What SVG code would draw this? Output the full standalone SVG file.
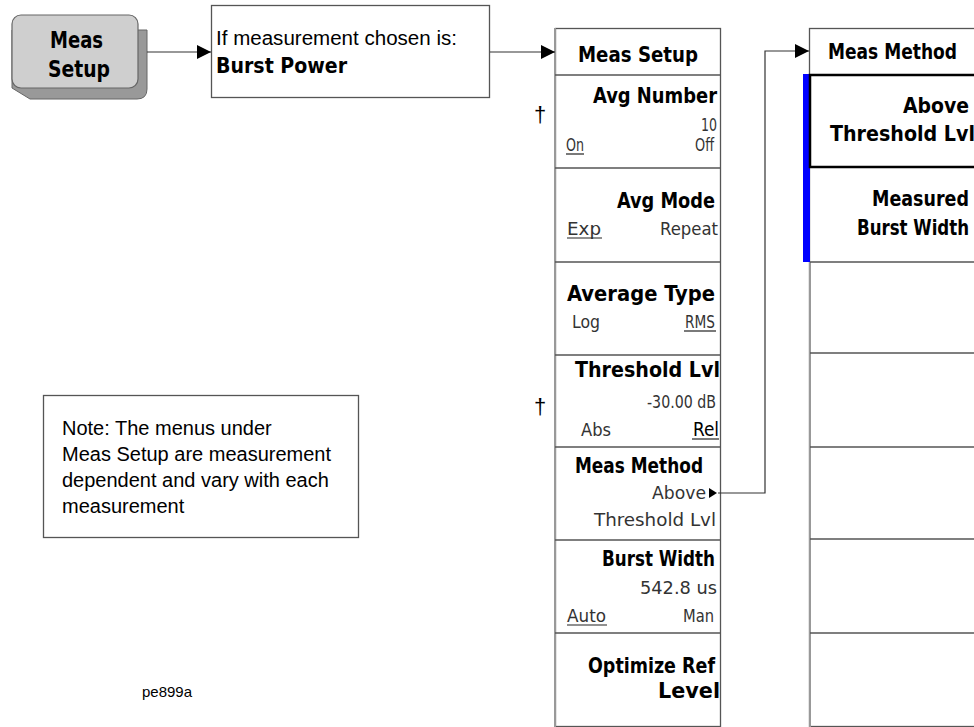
<svg xmlns="http://www.w3.org/2000/svg" width="974" height="727" viewBox="0 0 974 727">
<style>
.hp{font-family:"Liberation Sans Narrow","DejaVu Sans Condensed","Liberation Sans",sans-serif;}
.b{font-weight:bold;font-size:22px;fill:#000;}
.t{font-size:18px;fill:#333;}
.ar{font-family:"Liberation Sans",Arial,sans-serif;fill:#000;}
.box{fill:#fff;stroke:#555;stroke-width:1.3;}
.div{stroke:#555;stroke-width:1.3;}
.conn{fill:none;stroke:#333;stroke-width:1.2;}
.u{stroke:#222;stroke-width:1.2;}
</style>
<defs>
<marker id="arr" viewBox="0 0 14 14" refX="14" refY="7" markerWidth="14" markerHeight="14" markerUnits="userSpaceOnUse" orient="auto">
<path d="M0,0 L14,7 L0,14 Z" fill="#000"/>
</marker>
</defs>
<rect width="974" height="727" fill="#fff"/>

<g id="key-meas-setup">
<path d="M22,30 L147,30 L147,89 Q147,99 137,99 L30,99 L12,88 L12,30 Z" fill="#999" stroke="#666" stroke-width="1"/>
<rect x="12" y="15" width="126" height="73" rx="9" fill="#cfcfcf" stroke="#666" stroke-width="1.2"/>
<text class="hp" x="50" y="48" font-size="23" font-weight="bold" fill="#000" textLength="53" lengthAdjust="spacingAndGlyphs">Meas</text>
<text class="hp" x="48" y="77" font-size="23" font-weight="bold" fill="#000" textLength="62" lengthAdjust="spacingAndGlyphs">Setup</text>
</g>

<g id="condition-box">
<rect class="box" x="211.5" y="5.5" width="278" height="92"/>
<text class="ar" x="216" y="45" font-size="20" textLength="241" lengthAdjust="spacingAndGlyphs">If measurement chosen is:</text>
<text class="hp" x="216" y="73" font-size="22" font-weight="bold" textLength="131" lengthAdjust="spacingAndGlyphs">Burst Power</text>
</g>

<g id="menu-meas-setup">
<rect class="box" x="555.5" y="28.5" width="165" height="698"/>
<line x1="555" y1="28" x2="555" y2="727" stroke="#999" stroke-width="2"/>
<line class="div" x1="555" y1="75" x2="721" y2="75"/>
<line class="div" x1="555" y1="168" x2="721" y2="168"/>
<line class="div" x1="555" y1="262" x2="721" y2="262"/>
<line class="div" x1="555" y1="355" x2="721" y2="355"/>
<line class="div" x1="555" y1="447" x2="721" y2="447"/>
<line class="div" x1="555" y1="540" x2="721" y2="540"/>
<line class="div" x1="555" y1="633" x2="721" y2="633"/>
<text class="hp b" x="578" y="62" textLength="120" lengthAdjust="spacingAndGlyphs">Meas Setup</text>

<text class="hp b" x="593" y="103" textLength="124" lengthAdjust="spacingAndGlyphs">Avg Number</text>
<text class="hp t" x="701" y="131" textLength="16" lengthAdjust="spacingAndGlyphs">10</text>
<text class="hp t" x="566" y="151" textLength="18" lengthAdjust="spacingAndGlyphs">On</text>
<line class="u" x1="566" y1="154" x2="584" y2="154"/>
<text class="hp t" x="695" y="151" textLength="19" lengthAdjust="spacingAndGlyphs">Off</text>

<text class="hp b" x="617" y="208" textLength="98" lengthAdjust="spacingAndGlyphs">Avg Mode</text>
<text class="hp t" x="567" y="235" textLength="34" lengthAdjust="spacingAndGlyphs">Exp</text>
<line class="u" x1="567" y1="238" x2="602" y2="238"/>
<text class="hp t" x="660" y="235" textLength="58" lengthAdjust="spacingAndGlyphs">Repeat</text>

<text class="hp b" x="567" y="301" textLength="148" lengthAdjust="spacingAndGlyphs">Average Type</text>
<text class="hp t" x="572" y="328" textLength="28" lengthAdjust="spacingAndGlyphs">Log</text>
<text class="hp t" x="685" y="328" textLength="30" lengthAdjust="spacingAndGlyphs">RMS</text>
<line class="u" x1="684" y1="331" x2="716" y2="331"/>

<text class="hp b" x="575" y="377" textLength="145" lengthAdjust="spacingAndGlyphs">Threshold Lvl</text>
<text class="hp t" x="647" y="408" textLength="69" lengthAdjust="spacingAndGlyphs">-30.00 dB</text>
<text class="hp t" x="581" y="436" textLength="30" lengthAdjust="spacingAndGlyphs">Abs</text>
<text class="hp" x="693" y="436" font-size="20" fill="#000" textLength="26" lengthAdjust="spacingAndGlyphs">Rel</text>
<line class="u" x1="692" y1="439" x2="719" y2="439"/>

<text class="hp b" x="575" y="473" textLength="128" lengthAdjust="spacingAndGlyphs">Meas Method</text>
<text class="hp t" x="652" y="499" textLength="54" lengthAdjust="spacingAndGlyphs">Above</text>
<path d="M709,488 L717,493 L709,498 Z" fill="#000"/>
<text class="hp t" x="594" y="526" textLength="122" lengthAdjust="spacingAndGlyphs">Threshold Lvl</text>

<text class="hp b" x="602" y="566" textLength="113" lengthAdjust="spacingAndGlyphs">Burst Width</text>
<text class="hp t" x="640" y="594" textLength="77" lengthAdjust="spacingAndGlyphs">542.8 us</text>
<text class="hp t" x="567" y="622" textLength="39" lengthAdjust="spacingAndGlyphs">Auto</text>
<line class="u" x1="567" y1="625" x2="607" y2="625"/>
<text class="hp t" x="683" y="622" textLength="31" lengthAdjust="spacingAndGlyphs">Man</text>

<text class="hp b" x="588" y="673" textLength="127" lengthAdjust="spacingAndGlyphs">Optimize Ref</text>
<text class="hp b" x="658" y="698" textLength="62" lengthAdjust="spacingAndGlyphs">Level</text>
</g>

<g id="daggers">
<text class="ar" x="540" y="122" text-anchor="middle" font-size="22" fill="#000">†</text>
<text class="ar" x="540" y="414" text-anchor="middle" font-size="22" fill="#000">†</text>
</g>

<g id="menu-meas-method">
<rect class="box" x="809.5" y="28.5" width="170" height="698"/>
<line x1="810" y1="262" x2="810" y2="727" stroke="#999" stroke-width="2"/>
<rect x="803" y="74" width="7" height="188" fill="#0000ff"/>
<rect x="810" y="75" width="170" height="92" fill="#fff" stroke="#000" stroke-width="2.5"/>
<line class="div" x1="810" y1="262" x2="974" y2="262"/>
<line class="div" x1="810" y1="353" x2="974" y2="353"/>
<line class="div" x1="810" y1="447" x2="974" y2="447"/>
<line class="div" x1="810" y1="539" x2="974" y2="539"/>
<line class="div" x1="810" y1="633" x2="974" y2="633"/>
<text class="hp b" x="828" y="59" textLength="129" lengthAdjust="spacingAndGlyphs">Meas Method</text>
<text class="hp b" x="903" y="113" textLength="66" lengthAdjust="spacingAndGlyphs">Above</text>
<text class="hp b" x="830" y="141" textLength="145" lengthAdjust="spacingAndGlyphs">Threshold Lvl</text>
<text class="hp b" x="872" y="206" textLength="97" lengthAdjust="spacingAndGlyphs">Measured</text>
<text class="hp b" x="857" y="235" textLength="112" lengthAdjust="spacingAndGlyphs">Burst Width</text>
</g>

<g id="note-box">
<rect class="box" x="43.5" y="395.5" width="315" height="142"/>
<text class="ar" x="62" y="435" font-size="20">Note: The menus under</text>
<text class="ar" x="62" y="461" font-size="20">Meas Setup are measurement</text>
<text class="ar" x="62" y="487" font-size="20">dependent and vary with each</text>
<text class="ar" x="62" y="513" font-size="20">measurement</text>
</g>

<g id="label-pe899a">
<text class="ar" x="142" y="697" font-size="15">pe899a</text>
</g>

<g id="connectors">
<path class="conn" d="M147,52 L211,52" marker-end="url(#arr)"/>
<path class="conn" d="M490,52 L555,52" marker-end="url(#arr)"/>
<path class="conn" d="M718,493 L765,493 L765,51 L809,51" marker-end="url(#arr)"/>
</g>
</svg>
